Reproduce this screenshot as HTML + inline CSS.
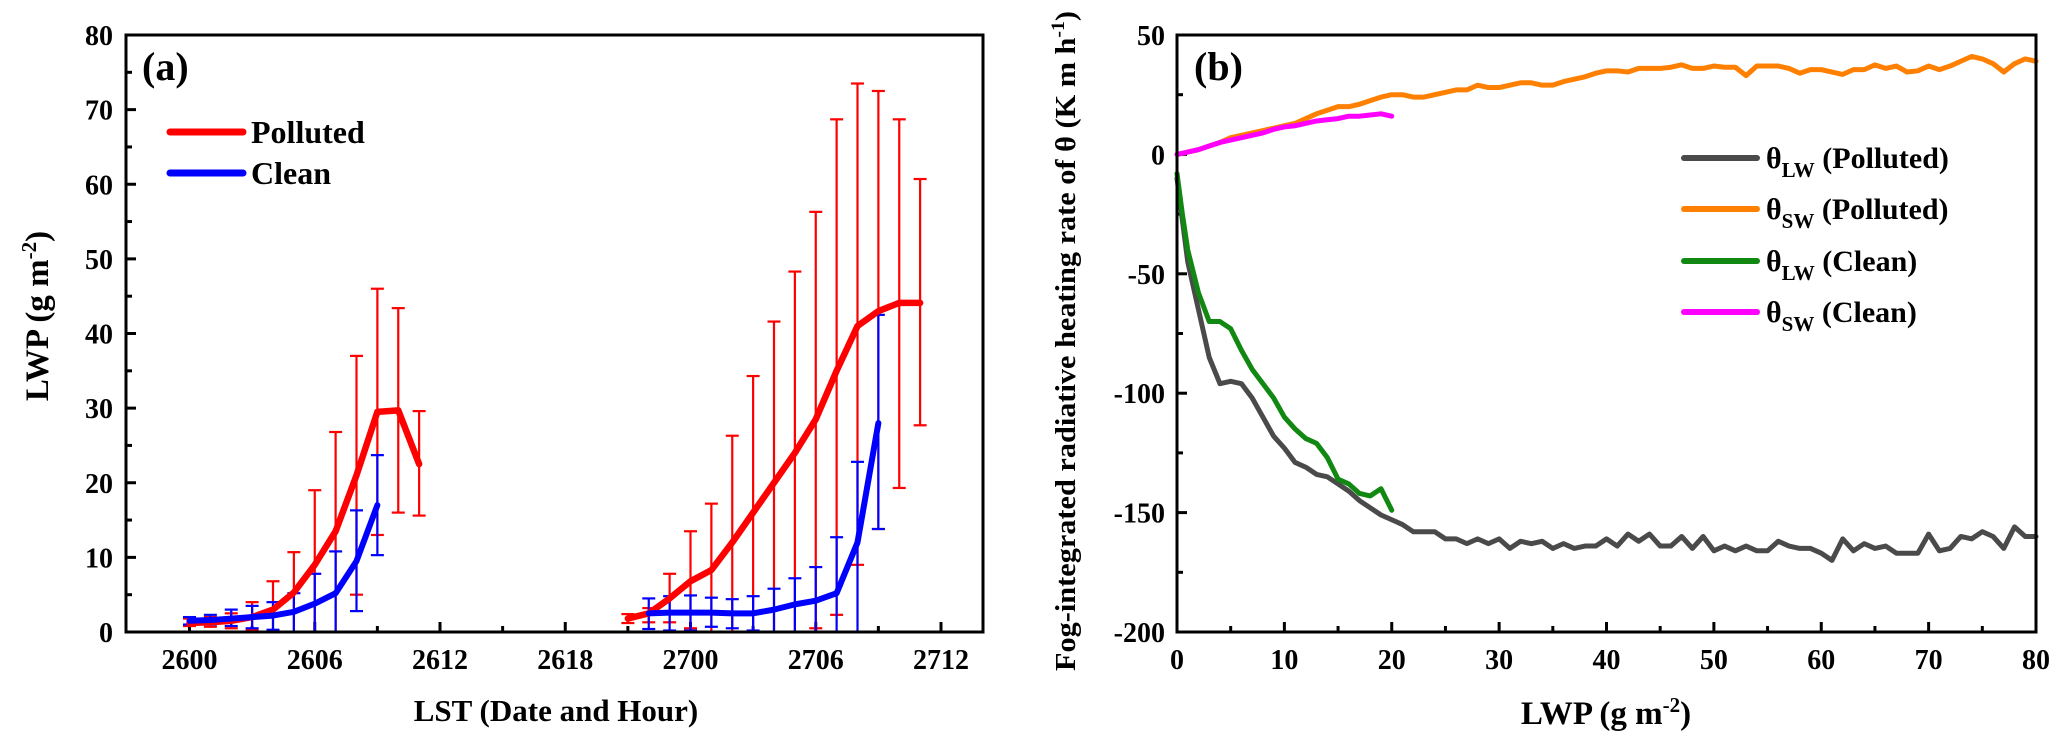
<!DOCTYPE html>
<html><head><meta charset="utf-8"><style>
html,body{margin:0;padding:0;background:#fff;}
svg{display:block;font-family:"Liberation Serif",serif;font-weight:bold;}
</style></head><body>
<svg id="fig" width="2067" height="745" viewBox="0 0 2067 745" xmlns="http://www.w3.org/2000/svg">
<g id="pa"></g>
<g id="pb"></g>
</svg>
<script>
// ---------- Panel (a) data ----------
const aTickLabels = ["2600","2606","2612","2618","2700","2706","2712"];
const aYTicks = [0,10,20,30,40,50,60,70,80];
const polIdx = [0,1,2,3,4,5,6,7,8,9,10,11, 21,22,23,24,25,26,27,28,29,30,31,32,33,34,35];
const polVal = [1.2,1.3,1.5,2.0,3.0,5.3,9,13.5,21,29.5,29.7,22.5, 1.8,2.5,4.5,6.8,8.3,12,16,20,24,28.5,35,41,43,44.1,44.1];
const polUp  = [1.8,2.0,2.5,4.0,6.8,10.7,19,26.8,37,46,43.4,29.6, 2.4,3.2,7.8,13.5,17.2,26.3,34.3,41.6,48.3,56.3,68.7,73.5,72.5,68.7,60.7];
const polLo  = [0.8,0.7,0.5,0.3,0.2,0,0,0,5,13,16,15.6, 1.2,1.3,1.3,0.5,0,0,0,0,0,0.5,2.3,9,13.8,19.3,27.7];
const clnIdx = [0,1,2,3,4,5,6,7,8,9, 22,23,24,25,26,27,28,29,30,31,32,33];
const clnVal = [1.5,1.6,1.8,2.0,2.2,2.7,3.8,5.2,9.5,17, 2.5,2.6,2.6,2.6,2.5,2.5,3.0,3.7,4.2,5.2,12,28];
const clnUp  = [2.0,2.3,3.0,3.5,4.0,5.2,7.8,10.8,16.3,23.7, 4.5,4.8,4.9,4.6,4.4,4.8,5.8,7.2,8.7,12.7,22.8,42.5];
const clnLo  = [1.0,1.0,0.8,0.5,0.3,0,0,0,2.8,10.3, 0.4,0.2,0.2,0.7,0.5,0.2,0,0,0,0,0,13.8];

// ---------- Panel (b) data ----------
const bXTicks = [0,10,20,30,40,50,60,70,80];
const bYTicks = [50,0,-50,-100,-150,-200];
const lwPolX = Array.from({length:81},(_,i)=>i);
const lwPol = [-10,-45,-65,-85,-96,-95,-96,-102,-110,-118,-123,-129,-131,-134,-135,-138,-141,-145,-148,-151,-153,-155,-158,-158,-158,-161,-161,-163,-161,-163,-161,-165,-162,-163,-162,-165,-163,-165,-164,-164,-161,-164,-159,-162,-159,-164,-164,-160,-165,-160,-166,-164,-166,-164,-166,-166,-162,-164,-165,-165,-167,-170,-161,-166,-163,-165,-164,-167,-167,-167,-159,-166,-165,-160,-161,-158,-160,-165,-156,-160,-160];
const swPol = [0,1,2,3.5,5,7,8,9,10,11,12,13,15,17,18.5,20,20,21,22.5,24,25,25,24,24,25,26,27,27,29,28,28,29,30,30,29,29,30.5,31.5,32.5,34,35,35,34.5,36,36,36,36.5,37.5,36,36,37,36.5,36.5,33,37,37,37,36,34,35.5,35.5,34.5,33.5,35.5,35.5,37.5,36,37,34.5,35,37,35.5,37,39,41,40,38,34.5,38,40,39];
const lwClnX = [0,0.5,1,2,3,4,5,6,7,8,9,10,11,12,13,14,15,16,17,18,19,20];
const lwCln = [-8,-25,-40,-58,-70,-70,-73,-82,-90,-96,-102,-110,-115,-119,-121,-127,-136,-138,-142,-143,-140,-149];
const swClnX = Array.from({length:21},(_,i)=>i);
const swCln = [0,1,2,3.5,5,6,7,8,9,10.5,11.5,12,13,14,14.5,15,16,16,16.5,17,16];

const NS="http://www.w3.org/2000/svg";
function mk(parent,tag,attrs,text){const e=document.createElementNS(NS,tag);for(const k in attrs)e.setAttribute(k,attrs[k]);if(text!==undefined)e.textContent=text;parent.appendChild(e);return e;}

// ---------- Panel (a) ----------
const pa=document.getElementById('pa');
const aL=126,aR=983,aT=35,aB=632;
const ax=i=>189.5+i*20.875;
const ay=v=>aB-(v/80)*(aB-aT);
for(let k=0;k<=12;k++){const x=ax(k*3);const len=k%2===0?10:6;
  const t=mk(pa,'line',{x1:x,x2:x,y1:aB,y2:aB-len,stroke:'#000','stroke-width':3});
  
  }
aTickLabels.forEach((s,k)=>{const t=mk(pa,'text',{x:ax(k*6),y:669,'font-size':28,'text-anchor':'middle'},s);
  
  });
for(let v=0;v<=80;v+=5){const len=v%10===0?10:6;
  const t=mk(pa,'line',{x1:aL,x2:aL+len,y1:ay(v),y2:ay(v),stroke:'#000','stroke-width':3});
  
  }
aYTicks.forEach(v=>{const t=mk(pa,'text',{x:113,y:ay(v)+10,'font-size':28,'text-anchor':'end'},String(v));
  
  });
function errBars(idx,up,lo,col,name){idx.forEach((i,k)=>{const x=ax(i);
  const g=mk(pa,'g',{stroke:col,'stroke-width':2.2});
  
  
  mk(g,'line',{x1:x,x2:x,y1:ay(up[k]),y2:ay(lo[k])});
  mk(g,'line',{x1:x-6.5,x2:x+6.5,y1:ay(up[k]),y2:ay(up[k])});
  mk(g,'line',{x1:x-6.5,x2:x+6.5,y1:ay(lo[k]),y2:ay(lo[k])});});}
function seriesA(idx,val,col,name,w){let segs=[],cur=[];idx.forEach((i,k)=>{if(k>0&&i-idx[k-1]>1){segs.push(cur);cur=[];}cur.push(ax(i)+','+ay(val[k]));});segs.push(cur);
  segs.forEach(s=>{const p=mk(pa,'polyline',{points:s.join(' '),fill:'none',stroke:col,'stroke-width':w,'stroke-linejoin':'round','stroke-linecap':'round'});
  
  });}
errBars(polIdx,polUp,polLo,'#ff0000','polluted-error-bar');
errBars(clnIdx,clnUp,clnLo,'#0000ff','clean-error-bar');
seriesA(polIdx,polVal,'#ff0000','polluted-line',6.5);
seriesA(clnIdx,clnVal,'#0000ff','clean-line',6);
const fa=mk(pa,'rect',{x:aL,y:aT,width:aR-aL,height:aB-aT,fill:'none',stroke:'#000','stroke-width':3});


let t;
t=mk(pa,'text',{x:142,y:80,'font-size':40},'(a)');


const lg=mk(pa,'g',{});


mk(lg,'line',{x1:170,x2:243,y1:132,y2:132,stroke:'#ff0000','stroke-width':7,'stroke-linecap':'round'});
mk(lg,'text',{x:251,y:143,'font-size':32},'Polluted');
mk(lg,'line',{x1:170,x2:243,y1:173,y2:173,stroke:'#0000ff','stroke-width':7,'stroke-linecap':'round'});
mk(lg,'text',{x:251,y:184,'font-size':32},'Clean');
t=mk(pa,'text',{x:556,y:721,'font-size':31,'text-anchor':'middle'},'LST (Date and Hour)');


t=mk(pa,'text',{x:0,y:0,'font-size':33,'text-anchor':'middle',transform:'translate(48,316) rotate(-90)'});


t.innerHTML='LWP (g m<tspan dy="-12" font-size="21">-2</tspan><tspan dy="12">)</tspan>';

// ---------- Panel (b) ----------
const pb=document.getElementById('pb');
const bL=1177,bR=2036,bT=35,bB=632;
const bx=v=>bL+(v/80)*(bR-bL);
const by=v=>bT+((50-v)/250)*(bB-bT);
for(let v=0;v<=80;v+=5){const len=v%10===0?10:6;
  const e=mk(pb,'line',{x1:bx(v),x2:bx(v),y1:bB,y2:bB-len,stroke:'#000','stroke-width':3});
  
  }
bXTicks.forEach(v=>{const e=mk(pb,'text',{x:bx(v),y:669,'font-size':28,'text-anchor':'middle'},String(v));
  
  });
for(let v=-200;v<=50;v+=25){const len=v%50===0?10:6;
  const e=mk(pb,'line',{x1:bL,x2:bL+len,y1:by(v),y2:by(v),stroke:'#000','stroke-width':3});
  
  }
bYTicks.forEach(v=>{const e=mk(pb,'text',{x:1165,y:by(v)+10,'font-size':28,'text-anchor':'end'},String(v));
  
  });
function seriesB(xs,ys,col,name){const p=mk(pb,'polyline',{points:xs.map((x,k)=>bx(x)+','+by(ys[k])).join(' '),fill:'none',stroke:col,'stroke-width':5,'stroke-linejoin':'round','stroke-linecap':'round'});
  
  }
seriesB(lwPolX,lwPol,'#4a4a4a','lw-polluted-line');
seriesB(lwPolX,swPol,'#ff8000','sw-polluted-line');
seriesB(lwClnX,lwCln,'#118811','lw-clean-line');
seriesB(swClnX,swCln,'#ff00ff','sw-clean-line');
const fb=mk(pb,'rect',{x:bL,y:bT,width:bR-bL,height:bB-bT,fill:'none',stroke:'#000','stroke-width':3});


t=mk(pb,'text',{x:1194,y:80,'font-size':40},'(b)');


const lgb=mk(pb,'g',{'font-size':30});


const legItems=[['#4a4a4a','LW','Polluted',158],['#ff8000','SW','Polluted',209],['#118811','LW','Clean',261],['#ff00ff','SW','Clean',312]];
legItems.forEach(it=>{mk(lgb,'line',{x1:1684,x2:1757,y1:it[3],y2:it[3],stroke:it[0],'stroke-width':6,'stroke-linecap':'round'});
  const tx=mk(lgb,'text',{x:1766,y:it[3]+10});
  tx.innerHTML='θ<tspan dy="9" font-size="21">'+it[1]+'</tspan><tspan dy="-9"> ('+it[2]+')</tspan>';});
t=mk(pb,'text',{x:1606,y:724,'font-size':33,'text-anchor':'middle'});


t.innerHTML='LWP (g m<tspan dy="-12" font-size="21">-2</tspan><tspan dy="12">)</tspan>';
t=mk(pb,'text',{x:0,y:0,'font-size':29,'text-anchor':'middle',textLength:660,lengthAdjust:'spacingAndGlyphs',transform:'translate(1075,341) rotate(-90)'});


t.innerHTML='Fog-integrated radiative heating rate of θ (K m h<tspan dy="-11" font-size="19">-1</tspan><tspan dy="11">)</tspan>';
</script>
</body></html>
